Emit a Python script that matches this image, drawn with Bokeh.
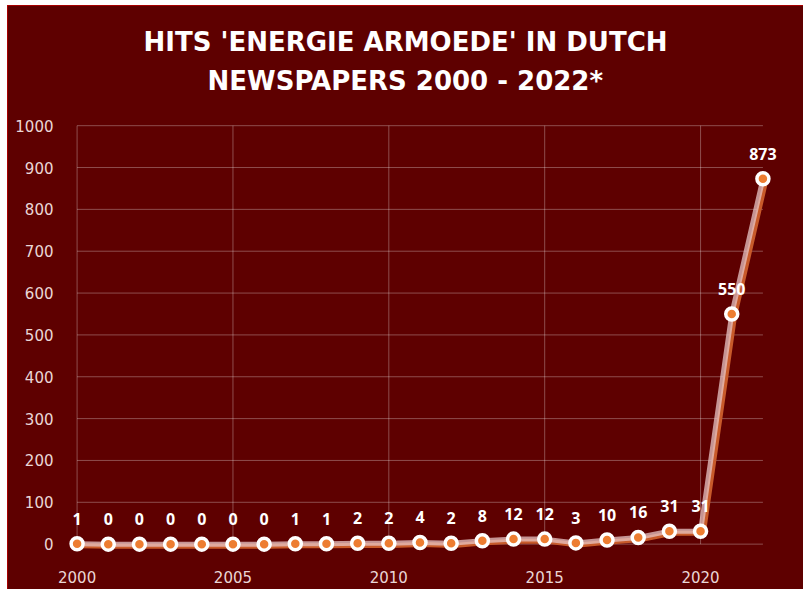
from bokeh.plotting import figure
from bokeh.models import FixedTicker, Range1d, Title, ColumnDataSource
from bokeh.core.properties import value
from bokeh.embed import file_html
from bokeh.resources import INLINE

years = [2000, 2001, 2002, 2003, 2004, 2005, 2006, 2007, 2008, 2009, 2010, 2011,
         2012, 2013, 2014, 2015, 2016, 2017, 2018, 2019, 2020, 2021, 2022]
hits = [1, 0, 0, 0, 0, 0, 0, 1, 1, 2, 2, 4, 2, 8, 12, 12, 3, 10, 16, 31, 31, 550, 873]
x_ticks = [2000, 2005, 2010, 2015, 2020]
y_ticks = [0, 100, 200, 300, 400, 500, 600, 700, 800, 900, 1000]
title_line1 = "HITS 'ENERGIE ARMOEDE' IN DUTCH"
title_line2 = "NEWSPAPERS 2000 - 2022*"

BG = "#5E0000"
TFONT = "DejaVu Sans"
LFONT = "Open Sans"

p = figure(width=796, height=584, output_backend="svg", toolbar_location=None,
           x_range=Range1d(1999.5, 2022.5), y_range=Range1d(-20, 1010),
           min_border_left=54, min_border_right=25, min_border_bottom=37, min_border_top=116)
p.background_fill_color = BG
p.border_fill_color = BG
p.outline_line_color = BG
p.outline_line_width = 2
p.grid.visible = False
p.styles = {"outline": "3px solid #C00000", "outline-offset": "-3px",
            "margin-left": "7px", "margin-top": "5px"}

# title: spacer (closest to plot), then line 2, then line 1
spacer = Title(text=" ", text_font=TFONT, text_font_size="10px", text_color=BG, standoff=10)
t2 = Title(text=title_line2, align="left", offset=146, text_font=TFONT, text_font_size="26px",
           text_font_style="bold", text_color="white", standoff=6)
t1 = Title(text=title_line1, align="left", offset=82, text_font=TFONT, text_font_size="26px",
           text_font_style="bold", text_color="white", standoff=7)
p.add_layout(spacer, "above")
p.add_layout(t2, "above")
p.add_layout(t1, "above")

for ax in (p.xaxis[0], p.yaxis[0]):
    ax.axis_line_color = None
    ax.major_tick_line_color = None
    ax.minor_tick_line_color = None
    ax.major_label_text_color = "#EAD6D6"
    ax.major_label_text_font = TFONT
    ax.major_label_text_font_size = "15px"
p.xaxis[0].ticker = FixedTicker(ticks=x_ticks)
p.yaxis[0].ticker = FixedTicker(ticks=y_ticks)
p.xaxis[0].major_label_standoff = 12
p.yaxis[0].major_label_standoff = 2

# grid lines
grid_col = "#FFFFFF"
p.segment(x0=[years[0]] * len(y_ticks), x1=[years[-1]] * len(y_ticks), y0=y_ticks, y1=y_ticks,
          line_color=grid_col, line_alpha=0.3, line_width=1)
p.segment(x0=x_ticks, x1=x_ticks, y0=[y_ticks[0]] * len(x_ticks), y1=[y_ticks[-1]] * len(x_ticks),
          line_color=grid_col, line_alpha=0.3, line_width=1)

# shadow line via slightly shifted ranges
p.extra_x_ranges = {"sx": Range1d(1999.5 - 0.09, 2022.5 - 0.09)}
p.extra_y_ranges = {"sy": Range1d(-20 + 5, 1010 + 5)}
src = ColumnDataSource(dict(x=years, y=hits, lbl=[str(v) for v in hits]))
p.line("x", "y", source=src, x_range_name="sx", y_range_name="sy",
       line_color="#C85A2A", line_width=5)
p.line("x", "y", source=src, line_color="#E8C6C6", line_alpha=0.75, line_width=5)

p.scatter("x", "y", source=src, size=12, fill_color="#ED7D31", line_color="white", line_width=3.5)
p.text("x", "y", text="lbl", source=src, text_color="white", text_font=value(LFONT),
       text_font_size="16px", text_font_style="bold", text_align="center",
       text_baseline="middle", y_offset=-25)

open("out.html", "w").write(file_html(p, INLINE))
